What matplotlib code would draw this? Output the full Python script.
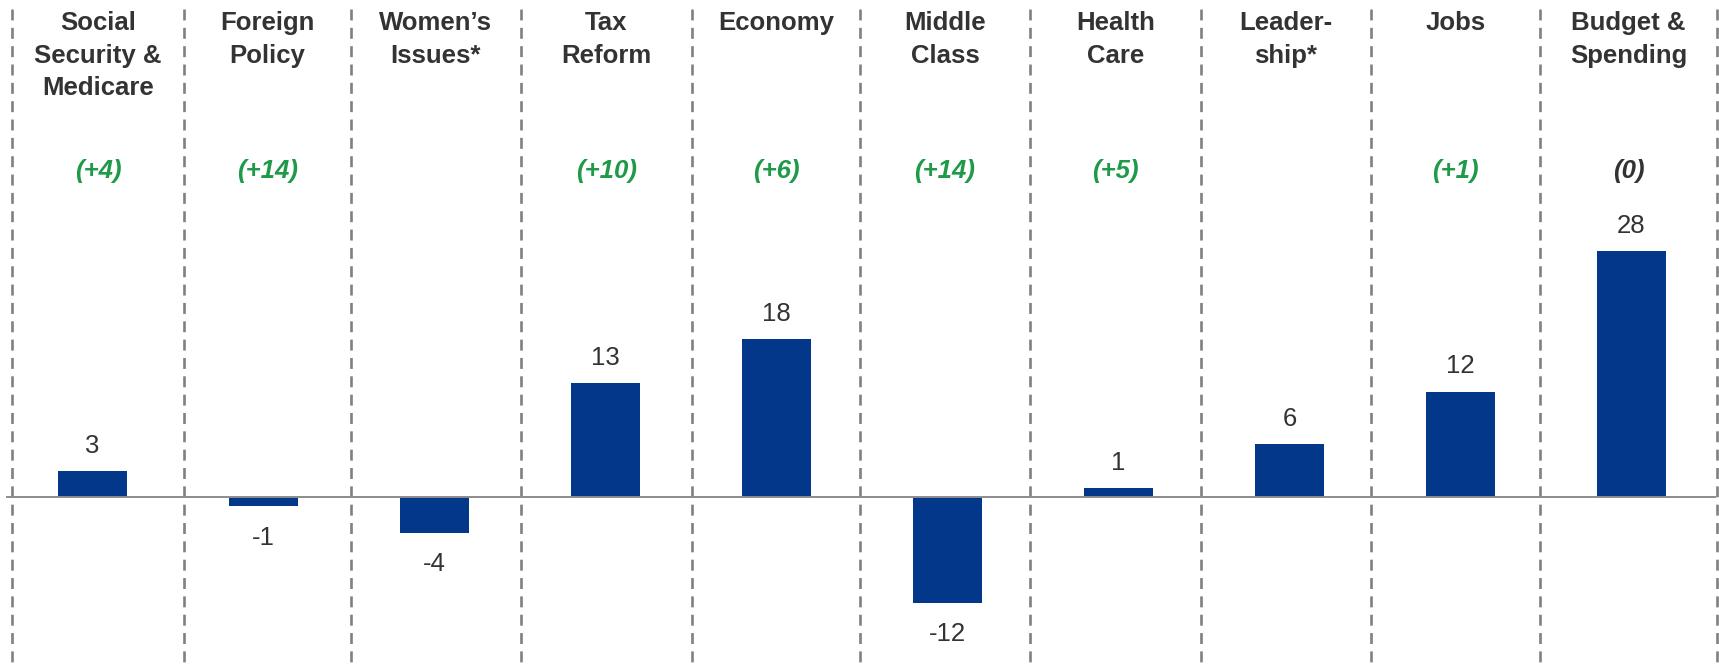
import matplotlib.pyplot as plt

plt.rcParams["font.family"] = ["Liberation Sans", "DejaVu Sans"]

categories = ["Social\nSecurity &\nMedicare", "Foreign\nPolicy", "Women\u2019s\nIssues*",
              "Tax\nReform", "Economy", "Middle\nClass", "Health\nCare",
              "Leader-\nship*", "Jobs", "Budget &\nSpending"]
values = [3, -1, -4, 13, 18, -12, 1, 6, 12, 28]
changes = ["(+4)", "(+14)", "", "(+10)", "(+6)", "(+14)", "(+5)", "", "(+1)", "(0)"]

# separator positions (in bar units)
sep_x = [-0.472, 0.537, 1.511, 2.504, 3.507, 4.488, 5.482, 6.482, 7.477, 8.467, 9.5]

fig = plt.figure(figsize=(17.19, 6.66), dpi=100)
ax = fig.add_axes([0, 0, 1, 1])
ax.set_xlim(-0.541, 9.512)
ax.set_ylim(-19.17, 56.51)
ax.axis("off")

x = list(range(len(values)))
ax.bar(x, values, width=0.4, color="#03378a", zorder=2)

# zero line
ax.plot([-0.5, 9.49], [0, 0], color="#8c8c8c", lw=1.4, zorder=3)

# dashed separators
for sx in sep_x:
    ax.plot([sx, sx], [55.5, -19.2], color="#808080", lw=1.9,
            linestyle=(0, (4.15, 2.8)), zorder=1)

mids = [(a + b) / 2 for a, b in zip(sep_x[:-1], sep_x[1:])]
text_col = "#333333"

for i, (cat, val, ch) in enumerate(zip(categories, values, changes)):
    ax.text(mids[i], 0.983, cat, transform=ax.get_xaxis_transform(),
            ha="center", va="top", fontsize=18.5, fontweight="bold",
            color=text_col, linespacing=1.45)
    if ch:
        col = "#1f9a48" if ch.startswith("(+") else text_col
        ax.text(mids[i], 36.25, ch, ha="center", va="baseline",
                fontsize=18.5, fontweight="bold", fontstyle="italic", color=col)
    if val >= 0:
        ax.annotate(str(val), (i, val), xytext=(0, 13.2), textcoords="offset points",
                    ha="center", va="baseline", fontsize=18.5, color=text_col)
    else:
        ax.annotate(str(val), (i, val), xytext=(0, -14), textcoords="offset points",
                    ha="center", va="top", fontsize=18.5, color=text_col)

fig.savefig("out.png", dpi=100)
